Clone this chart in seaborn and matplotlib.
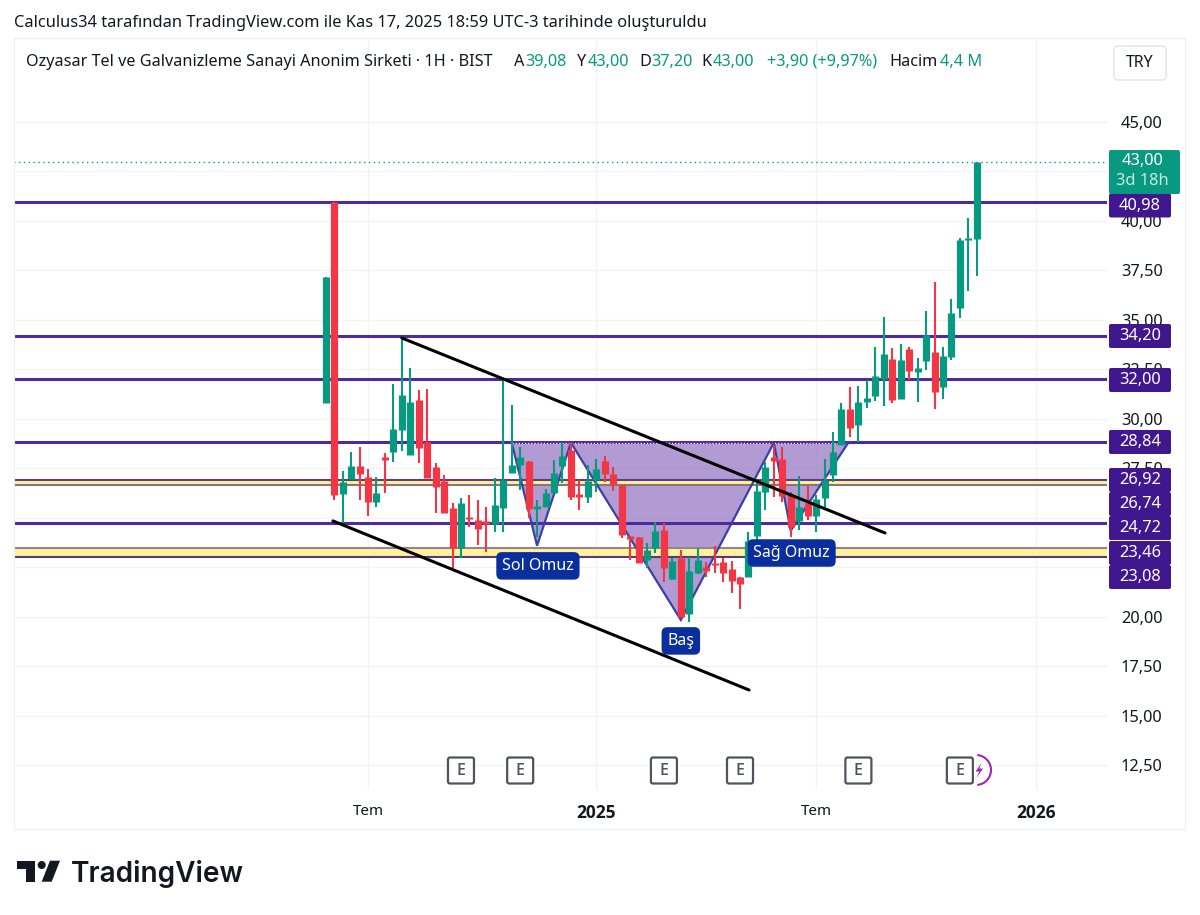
import matplotlib
matplotlib.use("Agg")
import matplotlib.pyplot as plt
from matplotlib.patches import Arc, Circle, FancyBboxPatch, Polygon, Rectangle
import pandas as pd
import seaborn as sns

opens = [30.79, 40.98, 26.2, 26.95, 27.63, 27.05, 25.83, 28.05, 28.35, 29.45,
         28.18, 30.96, 28.82, 27.56, 26.87, 25.49, 23.47, 25.07, 24.9, 24.85,
         24.68, 25.49, 27.25, 27.68, 27.9, 25.5, 25.54, 26.28, 27.6, 28.43,
         26.14, 26.04, 26.92, 27.86, 27.2, 26.67, 24.05, 24.06, 22.88, 23.47,
         24.4, 21.9, 22.96, 20.15, 22.24, 22.54, 22.68, 22.75, 22.41, 22.0,
         22.04, 24.11, 26.33, 28.1, 28.0, 26.18, 24.87, 25.74, 25.1, 26.0,
         27.17, 28.69, 30.49, 29.7, 30.87, 31.16, 32.0, 33.05, 31.01, 33.52,
         32.42, 32.95, 33.4, 31.6, 33.15, 35.62, 39.07, 39.08]
highs = [37.19, 40.98, 27.39, 28.35, 28.6, 27.45, 27.05, 28.3, 31.77, 34.16,
         32.59, 31.46, 31.5, 27.76, 27.17, 25.74, 25.99, 26.16, 25.91, 25.57,
         27.0, 31.97, 30.7, 28.6, 27.9, 25.9, 26.45, 27.93, 28.77, 28.77,
         26.9, 27.68, 27.96, 28.13, 27.56, 26.67, 24.06, 24.06, 23.75, 24.8,
         24.73, 22.96, 23.38, 23.05, 23.47, 22.8, 23.59, 22.96, 22.85, 22.0,
         24.31, 26.92, 27.85, 28.69, 28.57, 26.33, 27.12, 26.62, 26.16, 27.96,
         29.36, 30.82, 31.63, 31.68, 31.97, 33.62, 35.13, 33.57, 33.79, 33.62,
         33.06, 35.47, 36.9, 33.65, 36.04, 39.12, 40.17, 43.0]
lows = [30.79, 25.91, 24.73, 26.95, 25.91, 25.1, 25.54, 26.28, 27.84, 28.38,
        28.18, 27.76, 27.0, 25.23, 25.23, 22.46, 23.0, 24.53, 23.63, 23.3,
        24.31, 24.31, 27.25, 26.4, 25.0, 24.06, 25.54, 26.28, 26.75, 25.9,
        25.4, 25.77, 26.33, 26.84, 26.38, 23.97, 22.9, 22.71, 22.46, 23.22,
        21.78, 21.87, 20.0, 19.77, 22.17, 22.04, 22.2, 21.78, 21.23, 20.39,
        22.04, 23.59, 25.4, 26.08, 25.83, 24.02, 24.4, 24.9, 24.31, 25.54,
        26.84, 28.69, 29.1, 28.85, 30.54, 30.92, 30.66, 30.79, 31.01, 31.97,
        30.87, 32.47, 30.49, 31.0, 32.98, 35.08, 36.48, 37.2]
closes = [37.19, 26.17, 26.83, 27.63, 27.22, 25.83, 26.25, 28.0, 29.48, 31.2,
          30.86, 28.52, 27.0, 26.58, 25.23, 23.47, 25.74, 24.93, 24.43, 24.68,
          25.64, 26.92, 27.66, 28.1, 25.45, 25.55, 26.28, 27.25, 28.15, 26.08,
          26.1, 26.87, 27.46, 27.22, 26.72, 24.14, 24.0, 22.71, 23.38, 24.34,
          22.46, 22.85, 20.02, 22.32, 22.88, 22.34, 22.65, 22.2, 21.84, 21.67,
          23.86, 26.38, 27.56, 27.9, 26.11, 24.56, 25.57, 25.1, 25.96, 26.92,
          28.35, 30.49, 29.53, 30.86, 31.04, 32.17, 33.3, 30.96, 32.98, 32.42,
          32.5, 34.24, 31.38, 33.18, 35.35, 39.04, 39.1, 43.0]

solid_levels = [40.98, 34.20, 32.00, 28.84, 24.72]
band_levels = [26.92, 26.67, 23.47, 23.04]
band_level_colors = ["#5A3C92", "#8C7474", "#96858F", "#563880"]
bands = [(26.67, 26.92), (23.04, 23.47)]
level_labels = ["40,98", "34,20", "32,00", "28,84", "26,92", "26,74", "24,72", "23,46", "23,08"]

price_ticks = [12.5, 15, 17.5, 20, 22.5, 25, 27.5, 30, 32.5, 35, 37.5, 40, 42.5, 45]
# 22,50 25,00 and 42,50 sit fully behind the price labels
price_tick_labels = ["12,50", "15,00", "17,50", "20,00", "", "", "27,50",
                     "30,00", "32,50", "35,00", "37,50", "40,00", "", "45,00"]
time_ticks = [5, 32, 58, 84]
time_labels = ["Tem", "2025", "Tem", "2026"]

upper_channel_x = [9, 66.15]
upper_channel_y = [34.09, 24.24]
lower_channel_x = [0.86, 50.07]
lower_channel_y = [24.85, 16.31]

pattern_x = [22, 25, 29, 42, 53, 55, 61.8]
pattern_y = [28.8, 23.6, 28.8, 19.85, 28.8, 24.36, 28.8]

pattern_names = ["Sol Omuz", "Baş", "Sağ Omuz"]
pattern_name_x = [25.1, 42, 55.1]
pattern_name_y = [22.58, 18.79, 23.23]

earnings = [16, 23, 40, 49, 63, 75]

GREEN = "#089981"
RED = "#F23645"
PURPLE = "#4F2A9E"
LABEL_BG = "#41178F"
TEXT = "#131722"

sns.set_theme(style="white")
plt.rcParams["font.family"] = ["Noto Sans", "DejaVu Sans"]

W, H = 1200, 915
fig = plt.figure(figsize=(W / 100, H / 100), dpi=100, facecolor="white")
ax = fig.add_axes([14 / W, 1 - 790 / H, (1107 - 14) / W, (790 - 38) / H])

# long tables, lineplot draws one line per candle
rows_wick, rows_body = [], []
for i in range(len(opens)):
    d = "up" if closes[i] >= opens[i] else "down"
    rows_wick += [(i, lows[i], d), (i, highs[i], d)]
    lo, hi = sorted((opens[i], closes[i]))
    if hi - lo < 0.12:
        lo, hi = lo - 0.05, hi + 0.05
    rows_body += [(i, lo, d), (i, hi, d)]
wicks = pd.DataFrame(rows_wick, columns=["i", "price", "dir"])
bodies = pd.DataFrame(rows_body, columns=["i", "price", "dir"])
palette = {"up": GREEN, "down": RED}

ax.fill(pattern_x, pattern_y, color="#8A68BC", alpha=0.66, lw=0, zorder=1.2)
for lo, hi in bands:
    ax.axhspan(lo, hi, color="#FFF29A", lw=0, zorder=1.3)
ax.hlines(solid_levels, -40, 92.4, color=PURPLE, lw=2.2, zorder=1.5)
ax.hlines(band_levels, -40, 92.4, colors=band_level_colors, lw=1.5, zorder=1.5)
ax.hlines([43.0], -40, 92.4, color=GREEN, lw=1, linestyles=(0, (1, 2.5)), zorder=1.5)
ax.hlines([28.8], 22, 61.8, color="white", lw=0.9, linestyles=(0, (1, 1.5)), zorder=1.6)
ax.plot(pattern_x, pattern_y, color="#3B3FA6", lw=1.6, zorder=2.5, solid_joinstyle="miter")

sns.lineplot(data=wicks, x="i", y="price", hue="dir", units="i", estimator=None, sort=False,
             palette=palette, lw=1.5, legend=False, ax=ax, zorder=3, solid_capstyle="butt")
sns.lineplot(data=bodies, x="i", y="price", hue="dir", units="i", estimator=None, sort=False,
             palette=palette, lw=5.2, legend=False, ax=ax, zorder=3.1, solid_capstyle="butt")

sns.lineplot(x=upper_channel_x, y=upper_channel_y, color="black", lw=2.2, ax=ax, zorder=3.4, sort=False)
sns.lineplot(x=lower_channel_x, y=lower_channel_y, color="black", lw=2.2, ax=ax, zorder=3.4, sort=False)

for name, nx, ny in zip(pattern_names, pattern_name_x, pattern_name_y):
    ax.text(nx, ny, name, color="white", fontsize=11.5, ha="center", va="center", zorder=5,
            bbox=dict(boxstyle="round,pad=0.36,rounding_size=0.35", fc="#0B2E9E", ec="none"))

ax.set_xlim(-36.86, 92.4)
ax.set_ylim(11.26, 49.24)
ax.set_xticks(time_ticks)
ax.set_xticklabels(time_labels)
ax.set_yticks(price_ticks)
ax.set_yticklabels(price_tick_labels)
ax.yaxis.tick_right()
ax.tick_params(axis="y", length=0, pad=10, labelsize=11.8, labelcolor=TEXT)
ax.tick_params(axis="x", length=0, pad=10, labelsize=11, labelcolor=TEXT)
for t in ax.get_xticklabels():
    if t.get_text().isdigit():
        t.set_family("Open Sans")
        t.set_fontweight("bold")
        t.set_fontsize(12.5)
ax.set_xlabel("")
ax.set_ylabel("")
ax.grid(True, color="#F2F3F6", lw=1)
ax.set_axisbelow(True)
for s in ax.spines.values():
    s.set_visible(False)

# overlay in image pixels for the chrome around the chart
deco = fig.add_axes([0, 0, 1, 1], zorder=10)
deco.set_xlim(0, W)
deco.set_ylim(H, 0)
deco.axis("off")
deco.patch.set_alpha(0)

deco.add_patch(Rectangle((14, 38), 1171, 791, fc="none", ec="#EDEEF2", lw=0.8))

deco.text(14, 23, "Calculus34 tarafından TradingView.com ile Kas 17, 2025 18:59 UTC-3 tarihinde oluşturuldu",
          fontsize=11.8, color=TEXT, va="center")
header = [(26, "Ozyasar Tel ve Galvanizleme Sanayi Anonim Sirketi · 1H · BIST", TEXT),
          (514, "A", TEXT), (525, "39,08", GREEN), (577, "Y", TEXT), (588, "43,00", GREEN),
          (639, "D", TEXT), (651, "37,20", GREEN), (701, "K", TEXT), (713, "43,00", GREEN),
          (767, "+3,90 (+9,97%)", GREEN), (889, "Hacim", TEXT), (940, "4,4 M", GREEN)]
for hx, s, c in header:
    deco.text(hx, 62, s, fontsize=11.7, color=c, va="center")

deco.add_patch(FancyBboxPatch((1114, 46), 52, 34, boxstyle="round,pad=0,rounding_size=4",
                              fc="white", ec="#E0E3EB", lw=1))
deco.text(1140, 63, "TRY", fontsize=11.5, color=TEXT, ha="center", va="center")

# price labels, stacked like the app does when they would overlap
label_centres = [205.5, 336, 380, 442, 480, 504, 528, 553, 577]
for s, cy in zip(level_labels, label_centres):
    deco.add_patch(FancyBboxPatch((1109, cy - 12), 62, 24, boxstyle="round,pad=0,rounding_size=2",
                                  fc=LABEL_BG, ec="none"))
    deco.text(1140, cy, s, fontsize=11.8, color="white", ha="center", va="center")

deco.add_patch(FancyBboxPatch((1109, 150), 71, 44, boxstyle="round,pad=0,rounding_size=2", fc=GREEN, ec="none"))
deco.text(1142, 161, "43,00", fontsize=11.8, color="white", ha="center", va="center")
deco.text(1142, 181, "3d 18h", fontsize=11.8, color="#C8EBE4", ha="center", va="center")

# earnings flags
deco.add_patch(Arc((976, 770), 30, 30, theta1=-85, theta2=85, color="#9C27B0", lw=1.5))
deco.add_patch(Polygon([(981.5, 763), (975.5, 771.5), (979.2, 771.5), (976.5, 778), (983, 768.5), (979.3, 768.5)],
                       fc="#9C27B0", ec="none"))
for e in earnings:
    ex = ax.transData.transform((e, 20))[0]
    deco.add_patch(FancyBboxPatch((ex - 13, 757.5), 26, 26, boxstyle="round,pad=0,rounding_size=2",
                                  fc="white", ec="#50535E", lw=1.6))
    deco.text(ex, 771, "E", fontsize=11.5, color="#50535E", ha="center", va="center",
              family="Open Sans", fontweight="semibold")

# logo
deco.add_patch(Polygon([(17.3, 860.7), (35, 860.7), (35, 881.7), (26, 881.7), (26, 869.3), (17.3, 869.3)], fc="#131722", ec="none"))
deco.add_patch(Circle((41.7, 865), 4, fc="#131722", ec="none"))
deco.add_patch(Polygon([(50, 860.7), (60, 860.7), (51.7, 881.7), (41.7, 881.7)], fc="#131722", ec="none"))
deco.text(71, 882, "TradingView", fontsize=20.2, color="#131722", family="Inter", fontweight="semibold", va="baseline")

fig.savefig("out.png", dpi=100)
